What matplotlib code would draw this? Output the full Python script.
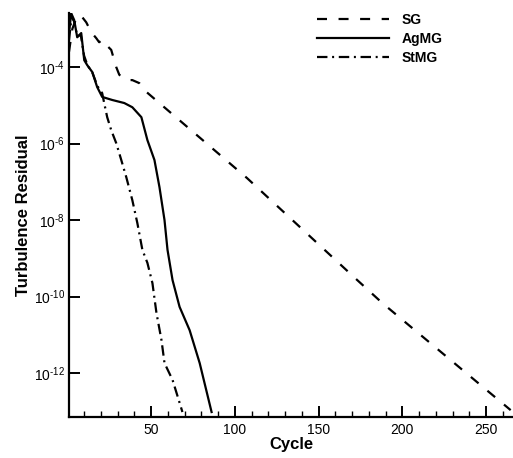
import numpy as np
import matplotlib
matplotlib.use("Agg")
import matplotlib.pyplot as plt
from matplotlib.ticker import MultipleLocator, NullLocator

plt.rcParams['font.family'] = ['Liberation Sans', 'DejaVu Sans']
plt.rcParams['mathtext.fontset'] = 'custom'
plt.rcParams['mathtext.rm'] = 'Liberation Sans'
plt.rcParams['mathtext.it'] = 'Liberation Sans'
plt.rcParams['axes.unicode_minus'] = False

# residuals, stored as log10 values
sg_cycle = [1, 3, 6, 9, 11.3, 14.3, 17.2, 19.0, 20.8, 23.2, 26.2, 29.2, 31.0, 32.8,
            35.8, 38.8, 43.0, 47.2, 107.2, 171.8, 188.0, 264.6]
sg_log = [-3.6, -3.0, -2.65, -2.7, -2.83, -3.09, -3.24, -3.35, -3.29, -3.42, -3.55,
          -4.0, -4.2, -4.26, -4.34, -4.34, -4.42, -4.65, -6.9, -9.52, -10.17, -12.97]

ag_cycle = [1.1, 2.3, 4.1, 5.9, 8.3, 10.1, 11.9, 14.9, 17.8, 20.8, 26.8, 34.0, 38.8,
            44.2, 47.8, 52.0, 55.0, 58.0, 59.8, 62.8, 67.0, 73.0, 79.0, 86.1]
ag_log = [-3.08, -2.59, -2.77, -3.22, -3.11, -3.82, -3.95, -4.13, -4.52, -4.78, -4.86,
          -4.94, -5.05, -5.31, -5.91, -6.43, -7.14, -8.0, -8.78, -9.57, -10.27, -10.88,
          -11.74, -13.02]

st_cycle = [1, 2.5, 4, 6, 8, 10, 12, 15, 18, 20.8, 22.0, 23.8, 26.2, 29.2, 32.2, 35.2,
            38.8, 41.8, 44.8, 47.8, 50.8, 53.2, 56.2, 58.0, 62.8, 68.7]
st_log = [-3.3, -2.7, -2.8, -3.2, -3.15, -3.7, -3.95, -4.15, -4.5, -4.68, -4.94, -5.31,
          -5.65, -5.99, -6.43, -6.88, -7.48, -8.08, -8.78, -9.12, -9.65, -10.43, -11.14,
          -11.74, -12.18, -13.02]

ytick_exp = [-12, -10, -8, -6, -4]

fig = plt.figure(figsize=(5.13, 4.58), dpi=100)
ax = fig.add_axes([0.1345, 0.0895, 0.8655, 0.883])

lw = 1.6
ax.plot(sg_cycle, 10.0 ** np.array(sg_log), color='black', lw=lw,
        linestyle=(0, (4.5, 5.2)), label='SG')
ax.plot(ag_cycle, 10.0 ** np.array(ag_log), color='black', lw=lw,
        linestyle='-', label='AgMG')
ax.plot(st_cycle, 10.0 ** np.array(st_log), color='black', lw=lw,
        linestyle=(0, (4.7, 2.1, 0.9, 2.1)), label='StMG')

ax.set_yscale('log')
ax.set_xlim(1, 266)
ax.set_ylim(10 ** -13.15, 10 ** -2.575)

ax.set_yticks([10.0 ** e for e in ytick_exp])
ax.set_yticklabels([r'$10^{\text{-%d}}$' % (-e) for e in ytick_exp])
ax.yaxis.set_minor_locator(NullLocator())
ax.xaxis.set_major_locator(MultipleLocator(50))
ax.xaxis.set_minor_locator(MultipleLocator(10))
ax.set_xticks([50, 100, 150, 200, 250])

for s in ['top', 'right']:
    ax.spines[s].set_visible(False)
for s in ['left', 'bottom']:
    ax.spines[s].set_linewidth(1.6)

ax.tick_params(axis='both', which='major', direction='in', length=8, width=1.4,
               labelsize=10, colors='black')
ax.tick_params(axis='x', which='minor', direction='in', length=4, width=1)
ax.tick_params(axis='x', pad=4)
ax.tick_params(axis='y', pad=3)

ax.set_xlabel('Cycle', fontsize=12, fontweight='bold', labelpad=0)
ax.set_ylabel('Turbulence Residual', fontsize=12, fontweight='bold', labelpad=2)

leg = ax.legend(loc='upper right', bbox_to_anchor=(0.87, 1.03), frameon=False,
                handlelength=5.2, handletextpad=0.9, labelspacing=0.35,
                prop={'weight': 'bold', 'size': 10})

fig.savefig('out.png', dpi=100)
